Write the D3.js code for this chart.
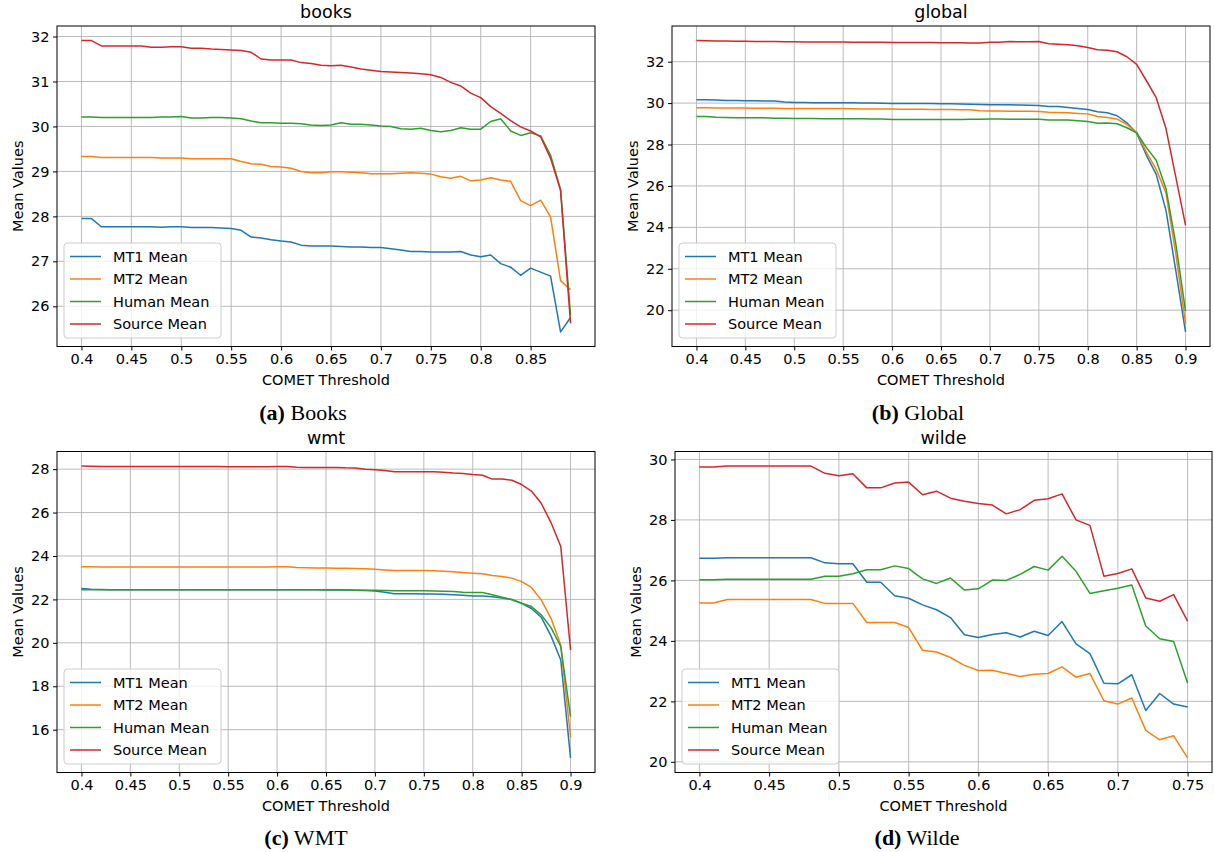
<!DOCTYPE html>
<html>
<head>
<meta charset="utf-8">
<script src="https://cdn.jsdelivr.net/npm/d3@7"></script>
<style>
  body { margin: 0; background: #fff; }
  svg { display: block; }
</style>
</head>
<body>
<svg id="fig" width="1214" height="852"></svg>
<script>
// ---- Series names and colours ----
const seriesNames = ["MT1 Mean", "MT2 Mean", "Human Mean", "Source Mean"];
const seriesColors = ["#1f77b4", "#ff7f0e", "#2ca02c", "#d62728"];

// ---- books ----
const booksThresholds = [0.40,0.41,0.42,0.43,0.44,0.45,0.46,0.47,0.48,0.49,
  0.50,0.51,0.52,0.53,0.54,0.55,0.56,0.57,0.58,0.59,
  0.60,0.61,0.62,0.63,0.64,0.65,0.66,0.67,0.68,0.69,
  0.70,0.71,0.72,0.73,0.74,0.75,0.76,0.77,0.78,0.79,
  0.80,0.81,0.82,0.83,0.84,0.85,0.86,0.87,0.88,0.89];
const booksMT1 = [27.95,27.95,27.77,27.77,27.77,27.77,27.77,27.77,27.76,27.77,
  27.77,27.75,27.75,27.75,27.74,27.73,27.69,27.54,27.52,27.48,
  27.45,27.43,27.36,27.34,27.34,27.34,27.33,27.32,27.32,27.31,
  27.31,27.28,27.25,27.22,27.22,27.21,27.21,27.21,27.22,27.14,
  27.10,27.14,26.95,26.87,26.69,26.85,26.76,26.67,25.43,25.75];
const booksMT2 = [29.33,29.33,29.31,29.31,29.31,29.31,29.31,29.31,29.30,29.30,
  29.30,29.28,29.28,29.28,29.28,29.28,29.22,29.17,29.16,29.11,
  29.10,29.07,29.00,28.97,28.97,28.99,28.99,28.98,28.97,28.95,
  28.95,28.95,28.96,28.97,28.96,28.94,28.88,28.85,28.89,28.79,
  28.81,28.86,28.81,28.78,28.35,28.24,28.36,27.99,26.57,26.37];
const booksHuman = [30.21,30.21,30.20,30.20,30.20,30.20,30.20,30.20,30.21,30.21,
  30.22,30.19,30.19,30.20,30.20,30.19,30.17,30.12,30.08,30.08,
  30.07,30.07,30.06,30.03,30.02,30.03,30.08,30.05,30.05,30.03,
  30.01,30.00,29.95,29.94,29.96,29.91,29.88,29.91,29.97,29.94,
  29.94,30.11,30.17,29.90,29.80,29.86,29.79,29.36,28.60,25.80];
const booksSource = [31.91,31.91,31.79,31.79,31.79,31.79,31.79,31.76,31.76,31.77,
  31.77,31.74,31.74,31.72,31.71,31.70,31.69,31.65,31.50,31.48,
  31.48,31.48,31.42,31.40,31.36,31.35,31.36,31.32,31.28,31.25,
  31.22,31.21,31.20,31.19,31.17,31.15,31.09,30.98,30.90,30.74,
  30.64,30.44,30.29,30.13,29.99,29.90,29.77,29.29,28.58,25.62];
const booksXTicks = [0.4,0.45,0.5,0.55,0.6,0.65,0.7,0.75,0.8,0.85];
const booksYTicks = [26,27,28,29,30,31,32];

// ---- global ----
const globalThresholds = [0.40,0.41,0.42,0.43,0.44,0.45,0.46,0.47,0.48,0.49,
  0.50,0.51,0.52,0.53,0.54,0.55,0.56,0.57,0.58,0.59,
  0.60,0.61,0.62,0.63,0.64,0.65,0.66,0.67,0.68,0.69,
  0.70,0.71,0.72,0.73,0.74,0.75,0.76,0.77,0.78,0.79,
  0.80,0.81,0.82,0.83,0.84,0.85,0.86,0.87,0.88,0.89,0.90];
const globalMT1 = [30.16,30.16,30.15,30.13,30.12,30.11,30.11,30.10,30.10,30.05,
  30.03,30.03,30.02,30.02,30.02,30.02,30.02,30.01,30.01,29.99,
  29.98,29.98,29.98,29.98,29.98,29.97,29.97,29.96,29.94,29.93,
  29.92,29.92,29.92,29.91,29.90,29.89,29.84,29.84,29.79,29.74,
  29.69,29.58,29.53,29.39,29.05,28.55,27.48,26.56,24.82,21.92,18.95];
const globalMT2 = [29.77,29.77,29.76,29.76,29.76,29.76,29.75,29.75,29.75,29.74,
  29.74,29.74,29.74,29.74,29.74,29.74,29.73,29.72,29.72,29.72,
  29.71,29.70,29.70,29.70,29.69,29.69,29.69,29.68,29.68,29.63,
  29.62,29.62,29.61,29.61,29.61,29.60,29.56,29.55,29.53,29.50,
  29.48,29.35,29.31,29.23,28.97,28.57,27.63,26.80,25.66,22.73,19.35];
const globalHuman = [29.35,29.35,29.32,29.31,29.29,29.29,29.29,29.29,29.27,29.27,
  29.26,29.26,29.26,29.25,29.24,29.24,29.24,29.24,29.23,29.23,
  29.21,29.21,29.21,29.21,29.21,29.21,29.21,29.21,29.22,29.22,
  29.23,29.23,29.22,29.22,29.22,29.22,29.18,29.19,29.19,29.15,
  29.11,29.03,29.04,29.00,28.81,28.57,27.85,27.24,25.87,23.21,19.95];
const globalSource = [33.02,33.01,33.00,33.00,32.99,32.99,32.98,32.97,32.97,32.96,
  32.96,32.95,32.95,32.95,32.95,32.95,32.94,32.94,32.94,32.94,
  32.93,32.93,32.93,32.93,32.93,32.92,32.92,32.91,32.90,32.90,
  32.94,32.94,32.98,32.96,32.96,32.97,32.87,32.84,32.82,32.77,
  32.69,32.58,32.55,32.48,32.24,31.87,31.08,30.26,28.77,26.44,24.10];
const globalXTicks = [0.4,0.45,0.5,0.55,0.6,0.65,0.7,0.75,0.8,0.85,0.9];
const globalYTicks = [20,22,24,26,28,30,32];

// ---- wmt ----
const wmtThresholds = [0.40,0.41,0.42,0.43,0.44,0.45,0.46,0.47,0.48,0.49,
  0.50,0.51,0.52,0.53,0.54,0.55,0.56,0.57,0.58,0.59,
  0.60,0.61,0.62,0.63,0.64,0.65,0.66,0.67,0.68,0.69,
  0.70,0.71,0.72,0.73,0.74,0.75,0.76,0.77,0.78,0.79,
  0.80,0.81,0.82,0.83,0.84,0.85,0.86,0.87,0.88,0.89,0.90];
const wmtMT1 = [22.50,22.47,22.46,22.45,22.45,22.45,22.45,22.45,22.45,22.45,
  22.45,22.45,22.45,22.45,22.45,22.45,22.45,22.45,22.45,22.45,
  22.45,22.45,22.45,22.45,22.44,22.44,22.44,22.43,22.42,22.41,
  22.39,22.33,22.26,22.26,22.26,22.25,22.25,22.24,22.22,22.19,
  22.16,22.16,22.12,22.07,22.00,21.82,21.58,21.18,20.32,19.21,14.70];
const wmtMT2 = [23.50,23.50,23.49,23.49,23.49,23.49,23.49,23.49,23.49,23.49,
  23.49,23.49,23.49,23.49,23.49,23.49,23.49,23.49,23.49,23.49,
  23.50,23.50,23.47,23.46,23.45,23.45,23.44,23.43,23.42,23.41,
  23.39,23.36,23.33,23.33,23.33,23.33,23.32,23.30,23.27,23.24,
  23.21,23.18,23.10,23.05,22.98,22.82,22.55,21.98,21.13,19.90,15.65];
const wmtHuman = [22.45,22.45,22.45,22.45,22.45,22.45,22.45,22.45,22.45,22.45,
  22.44,22.44,22.44,22.44,22.44,22.44,22.44,22.44,22.44,22.44,
  22.45,22.45,22.44,22.44,22.44,22.43,22.43,22.43,22.42,22.42,
  22.42,22.41,22.40,22.40,22.40,22.40,22.39,22.38,22.36,22.33,
  22.32,22.32,22.21,22.10,21.98,21.82,21.67,21.29,20.70,19.83,16.60];
const wmtSource = [28.14,28.13,28.12,28.12,28.12,28.12,28.12,28.12,28.12,28.12,
  28.12,28.12,28.12,28.12,28.12,28.11,28.11,28.11,28.11,28.11,
  28.12,28.12,28.09,28.08,28.08,28.08,28.08,28.06,28.05,28.00,
  27.97,27.94,27.88,27.88,27.88,27.88,27.88,27.86,27.82,27.80,
  27.75,27.72,27.54,27.55,27.49,27.29,26.99,26.43,25.54,24.44,19.67];
const wmtXTicks = [0.4,0.45,0.5,0.55,0.6,0.65,0.7,0.75,0.8,0.85,0.9];
const wmtYTicks = [16,18,20,22,24,26,28];

// ---- wilde ----
const wildeThresholds = [0.40,0.41,0.42,0.43,0.44,0.45,0.46,0.47,0.48,0.49,
  0.50,0.51,0.52,0.53,0.54,0.55,0.56,0.57,0.58,0.59,
  0.60,0.61,0.62,0.63,0.64,0.65,0.66,0.67,0.68,0.69,
  0.70,0.71,0.72,0.73,0.74,0.75];
const wildeMT1 = [26.73,26.73,26.75,26.75,26.75,26.75,26.75,26.75,26.75,26.58,
  26.55,26.55,25.94,25.94,25.49,25.41,25.19,25.03,24.77,24.20,
  24.11,24.21,24.27,24.13,24.32,24.18,24.64,23.90,23.58,22.60,
  22.58,22.88,21.70,22.26,21.91,21.81];
const wildeMT2 = [25.25,25.25,25.37,25.37,25.37,25.37,25.37,25.37,25.37,25.24,
  25.24,25.24,24.61,24.61,24.61,24.44,23.69,23.63,23.45,23.19,
  23.02,23.03,22.92,22.82,22.90,22.92,23.14,22.80,22.92,22.02,
  21.91,22.11,21.04,20.73,20.86,20.13];
const wildeHuman = [26.02,26.02,26.04,26.04,26.04,26.04,26.04,26.04,26.04,26.14,
  26.14,26.22,26.35,26.35,26.48,26.39,26.05,25.90,26.08,25.68,
  25.72,26.01,26.00,26.20,26.46,26.34,26.80,26.30,25.57,25.66,
  25.74,25.85,24.49,24.07,23.98,22.61];
const wildeSource = [29.75,29.75,29.78,29.78,29.78,29.78,29.78,29.78,29.78,29.54,
  29.46,29.53,29.06,29.06,29.22,29.25,28.83,28.95,28.72,28.62,
  28.54,28.49,28.20,28.34,28.65,28.70,28.86,28.00,27.82,26.14,
  26.23,26.38,25.42,25.31,25.53,24.65];
const wildeXTicks = [0.4,0.45,0.5,0.55,0.6,0.65,0.7,0.75];
const wildeYTicks = [20,22,24,26,28,30];

// ---- panel layout ----
const panels = [
  { title: "books", tag: "(a)", caption: "Books",
    x: booksThresholds, ys: [booksMT1, booksMT2, booksHuman, booksSource],
    xTicks: booksXTicks, yTicks: booksYTicks,
    box: { l: 57, r: 595, t: 26, b: 346.5 }, capX: 303, capY: 420 },
  { title: "global", tag: "(b)", caption: "Global",
    x: globalThresholds, ys: [globalMT1, globalMT2, globalHuman, globalSource],
    xTicks: globalXTicks, yTicks: globalYTicks,
    box: { l: 672, r: 1210, t: 26, b: 346.5 }, capX: 918, capY: 420 },
  { title: "wmt", tag: "(c)", caption: "WMT",
    x: wmtThresholds, ys: [wmtMT1, wmtMT2, wmtHuman, wmtSource],
    xTicks: wmtXTicks, yTicks: wmtYTicks,
    box: { l: 57, r: 595, t: 451.5, b: 772.5 }, capX: 306, capY: 845 },
  { title: "wilde", tag: "(d)", caption: "Wilde",
    x: wildeThresholds, ys: [wildeMT1, wildeMT2, wildeHuman, wildeSource],
    xTicks: wildeXTicks, yTicks: wildeYTicks,
    box: { l: 675, r: 1212, t: 451.5, b: 772.5 }, capX: 917, capY: 845 }
];

const FONT = "'DejaVu Sans', sans-serif";
const TICK_FS = 14.5;
const svg = d3.select("#fig");
svg.append("rect").attr("width", 1214).attr("height", 852).attr("fill", "#fff");

// auto range with 5% padding on both sides
function padded(ext) {
  const m = (ext[1] - ext[0]) * 0.05;
  return [ext[0] - m, ext[1] + m];
}
const fmtTick = v => String(+v.toFixed(2));

panels.forEach(p => {
  const { l, r, t, b } = p.box;
  const allY = p.ys.flat();
  const x = d3.scaleLinear().domain(padded(d3.extent(p.x))).range([l, r]);
  const y = d3.scaleLinear().domain(padded(d3.extent(allY))).range([b, t]);

  const g = svg.append("g");

  // grid
  g.append("g").selectAll("line").data(p.xTicks).join("line")
    .attr("x1", d => x(d)).attr("x2", d => x(d)).attr("y1", t).attr("y2", b)
    .attr("stroke", "#b0b0b0").attr("stroke-width", 1).attr("opacity", 0.85);
  g.append("g").selectAll("line").data(p.yTicks).join("line")
    .attr("x1", l).attr("x2", r).attr("y1", d => y(d)).attr("y2", d => y(d))
    .attr("stroke", "#b0b0b0").attr("stroke-width", 1).attr("opacity", 0.85);

  // series lines
  const line = d3.line().x((d, i) => x(p.x[i])).y(d => y(d));
  p.ys.forEach((vals, si) => {
    g.append("path").datum(vals)
      .attr("d", line)
      .attr("fill", "none")
      .attr("stroke", seriesColors[si])
      .attr("stroke-width", 1.5)
      .attr("stroke-linejoin", "round");
  });

  // axes
  const xAxis = d3.axisBottom(x).tickValues(p.xTicks).tickFormat(fmtTick)
    .tickSizeInner(4).tickSizeOuter(0).tickPadding(3.5);
  const yAxis = d3.axisLeft(y).tickValues(p.yTicks).tickFormat(fmtTick)
    .tickSizeInner(4).tickSizeOuter(0).tickPadding(3.5);
  const gx = g.append("g").attr("transform", `translate(0,${b})`).call(xAxis);
  const gy = g.append("g").attr("transform", `translate(${l},0)`).call(yAxis);
  [gx, gy].forEach(a => {
    a.select(".domain").remove();
    a.selectAll("line").attr("stroke", "#000").attr("stroke-width", 1);
    a.selectAll("text").attr("font-family", FONT).attr("font-size", TICK_FS).attr("fill", "#000");
  });

  // frame
  g.append("rect").attr("x", l).attr("y", t).attr("width", r - l).attr("height", b - t)
    .attr("fill", "none").attr("stroke", "#000").attr("stroke-width", 1);

  // title
  g.append("text").attr("x", (l + r) / 2).attr("y", t - 8)
    .attr("text-anchor", "middle").attr("font-family", FONT).attr("font-size", 17.5)
    .text(p.title);

  // axis labels
  g.append("text").attr("x", (l + r) / 2).attr("y", b + 38)
    .attr("text-anchor", "middle").attr("font-family", FONT).attr("font-size", TICK_FS)
    .text("COMET Threshold");
  g.append("text")
    .attr("transform", `translate(${l - 34},${(t + b) / 2}) rotate(-90)`)
    .attr("text-anchor", "middle").attr("font-family", FONT).attr("font-size", TICK_FS)
    .text("Mean Values");

  // legend (lower left)
  const lgW = 157, lgH = 95;
  const lgX = l + 7, lgY = b - 8.5 - lgH;
  const lg = g.append("g").attr("transform", `translate(${lgX},${lgY})`);
  lg.append("rect").attr("width", lgW).attr("height", lgH).attr("rx", 3.5)
    .attr("fill", "#fff").attr("fill-opacity", 0.8)
    .attr("stroke", "#cccccc").attr("stroke-width", 1);
  seriesNames.forEach((name, si) => {
    const cy = 13.5 + si * 22.5;
    lg.append("line").attr("x1", 6).attr("x2", 37).attr("y1", cy).attr("y2", cy)
      .attr("stroke", seriesColors[si]).attr("stroke-width", 1.5);
    lg.append("text").attr("x", 49).attr("y", cy).attr("dy", "0.36em")
      .attr("font-family", FONT).attr("font-size", TICK_FS).text(name);
  });

  // subfigure caption
  const cap = svg.append("text").attr("x", p.capX).attr("y", p.capY)
    .attr("text-anchor", "middle").attr("font-family", "'Liberation Serif', 'Times New Roman', serif")
    .attr("font-size", 22);
  cap.append("tspan").attr("font-weight", "bold").text(p.tag);
  cap.append("tspan").text(" " + p.caption);
});
</script>
</body>
</html>
